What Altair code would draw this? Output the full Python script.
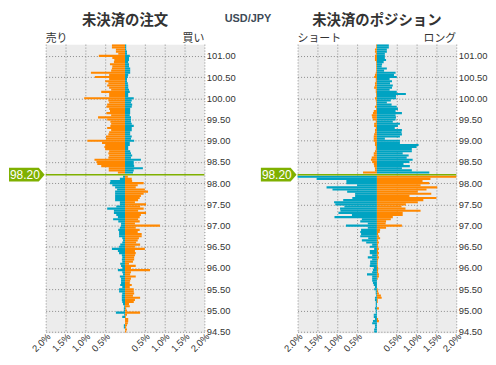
import altair as alt
import pandas as pd

CURRENT = 98.20
CURRENT_LABEL = "98.20"
PRICES = [round(101.25 - 0.05 * i, 2) for i in range(136)]
Y_TICKS = [94.5, 95.0, 95.5, 96.0, 96.5, 97.0, 97.5, 98.0, 98.5, 99.0, 99.5, 100.0, 100.5, 101.0]
X_TICKS = [-2.0, -1.5, -1.0, -0.5, 0.5, 1.0, 1.5, 2.0]

# 未決済の注文 : 売り (left) / 買い (right), % per price level, top (101.25) to bottom (94.50)
ORDER_SELL = [
    0.33, 0.33, 0.23, 0.23, 0.17, 0.66, 0.32, 0.27, 0.28, 0.38,
    0.32, 0.33, 0.35, 0.86, 0.40, 0.76, 0.40, 0.50, 0.42, 0.45,
    0.40, 0.35, 0.60, 0.40, 0.40, 1.03, 0.42, 0.40, 0.45, 0.47,
    0.40, 0.38, 0.47, 0.35, 0.68, 0.45, 0.37, 0.35, 0.37, 0.45,
    0.35, 0.40, 0.42, 0.48, 0.48,
    0.95, 0.58, 0.50, 0.52, 0.50, 0.40, 0.42, 0.40, 0.42, 0.77,
    0.72, 0.70, 0.60, 0.41, 0.41, 0.18, 0.00,
    0.05, 0.13, 0.37, 0.38, 0.32, 0.25, 0.20, 0.25, 0.25, 0.25,
    0.25, 0.25, 0.13, 0.13, 0.22, 0.45, 0.28, 0.28, 0.22, 0.18,
    0.30, 0.17, 0.10, 0.10, 0.13, 0.17, 0.15, 0.15,
    0.15, 0.07, 0.05, 0.07, 0.12, 0.15, 0.33, 0.18, 0.15, 0.08,
    0.07, 0.08, 0.07, 0.12, 0.10, 0.07, 0.18, 0.07, 0.05, 0.13,
    0.10, 0.10, 0.10, 0.12, 0.07, 0.15, 0.15, 0.07, 0.08, 0.08,
    0.08, 0.07, 0.05, 0.02, 0.03, 0.03, 0.23, 0.02, 0.07, 0.00,
    0.00, 0.00, 0.03, 0.03, 0.00, 0.00,
]
ORDER_BUY = [
    0.03, 0.03, 0.03, 0.05, 0.05, 0.12, 0.10, 0.10, 0.08, 0.10,
    0.10, 0.13, 0.13, 0.13, 0.08, 0.07, 0.05, 0.05, 0.07, 0.08,
    0.08, 0.10, 0.12, 0.08, 0.08, 0.22, 0.17, 0.15, 0.18, 0.17,
    0.13, 0.13, 0.13, 0.12, 0.15, 0.15, 0.15, 0.17, 0.22, 0.17,
    0.17, 0.13, 0.13, 0.17, 0.15,
    0.23, 0.12, 0.12, 0.08, 0.08, 0.13, 0.15, 0.18, 0.15, 0.40,
    0.22, 0.22, 0.23, 0.45, 0.22, 0.20, 0.00,
    0.07, 0.17, 0.18, 0.47, 0.32, 0.27, 0.50, 0.58, 0.47, 0.40,
    0.37, 0.33, 0.25, 0.53, 0.38, 0.47, 0.33, 0.53, 0.40, 0.37,
    0.33, 0.37, 0.25, 0.88, 0.27, 0.37, 0.32, 0.42,
    0.42, 0.35, 0.32, 0.28, 0.38, 0.25, 0.50, 0.25, 0.27, 0.25,
    0.23, 0.23, 0.20, 0.10, 0.27, 0.15, 0.63, 0.15, 0.13, 0.27,
    0.15, 0.13, 0.12, 0.17, 0.12, 0.22, 0.22, 0.23, 0.20, 0.38,
    0.25, 0.22, 0.10, 0.12, 0.03, 0.05, 0.38, 0.05, 0.02, 0.08,
    0.08, 0.07, 0.05, 0.03, 0.05, 0.03,
]
# 未決済のポジション : ショート (left) / ロング (right)
POS_SHORT = [
    0.02, 0.02, 0.05, 0.05, 0.03, 0.05, 0.05, 0.05, 0.02, 0.02,
    0.02, 0.02, 0.02, 0.03, 0.05, 0.07, 0.03, 0.03, 0.05, 0.05,
    0.07, 0.03, 0.03, 0.02, 0.02, 0.05, 0.03, 0.02, 0.02, 0.05,
    0.02, 0.08, 0.10, 0.13, 0.12, 0.10, 0.03, 0.07, 0.07, 0.03,
    0.05, 0.05, 0.07, 0.08, 0.08,
    0.08, 0.05, 0.05, 0.03, 0.03, 0.05, 0.08, 0.08, 0.13, 0.15,
    0.12, 0.08, 0.07, 0.05, 0.05, 0.35, 0.00,
    2.10, 1.52, 0.77, 0.77, 0.50, 1.27, 1.12, 0.75, 0.55, 0.55,
    0.62, 0.85, 1.08, 1.05, 0.82, 0.93, 0.92, 0.97, 0.63, 1.07,
    0.38, 0.42, 0.23, 0.78, 0.23, 0.40, 0.42, 0.40,
    0.42, 0.22, 0.38, 0.27, 0.12, 0.18, 0.07, 0.18, 0.18, 0.12,
    0.23, 0.12, 0.17, 0.17, 0.18, 0.08, 0.10, 0.12, 0.25, 0.12,
    0.12, 0.12, 0.10, 0.08, 0.05, 0.07, 0.03, 0.03, 0.02, 0.05,
    0.05, 0.03, 0.03, 0.03, 0.05, 0.03, 0.03, 0.08, 0.08, 0.05,
    0.10, 0.12, 0.05, 0.05, 0.07, 0.07,
]
POS_LONG = [
    0.30, 0.30, 0.25, 0.25, 0.20, 0.20, 0.20, 0.23, 0.17, 0.13,
    0.12, 0.25, 0.18, 0.47, 0.43, 0.50, 0.32, 0.38, 0.33, 0.40,
    0.38, 0.32, 0.50, 0.73, 0.48, 0.48, 0.35, 0.25, 0.37, 0.50,
    0.53, 0.47, 0.63, 0.47, 0.48, 0.47, 0.40, 0.58, 0.53, 0.45,
    0.63, 0.62, 0.63, 0.58, 0.20,
    0.58, 0.58, 1.05, 1.00, 0.88, 0.88, 0.65, 0.80, 0.75, 0.90,
    0.82, 0.67, 0.83, 0.63, 0.88, 1.32, 0.00,
    2.10, 1.35, 1.15, 1.32, 1.10, 1.52, 1.25, 1.03, 1.37, 0.82,
    1.50, 1.17, 1.03, 0.73, 0.62, 0.72, 1.10, 0.65, 0.65, 0.40,
    0.35, 0.23, 0.22, 0.63, 0.23, 0.08, 0.07, 0.03,
    0.05, 0.08, 0.03, 0.05, 0.03, 0.03, 0.05, 0.03, 0.05, 0.03,
    0.05, 0.03, 0.02, 0.02, 0.02, 0.03, 0.03, 0.03, 0.05, 0.05,
    0.02, 0.00, 0.00, 0.00, 0.00, 0.02, 0.03, 0.05, 0.10, 0.12,
    0.02, 0.02, 0.00, 0.00, 0.05, 0.00, 0.00, 0.00, 0.00, 0.03,
    0.05, 0.00, 0.00, 0.00, 0.00, 0.00,
]

ORANGE = "#FF8800"
TEAL = "#00A3C2"
GREEN = "#7FB000"
TEXT = "#333333"
GRID = "#8A8A8A"
JP = "Noto Sans CJK JP"
NUM = "Liberation Sans, Arial"
TAG_PATH = "M-1,-0.39 L0.667,-0.39 L1,0 L0.667,0.39 L-1,0.39 Z"

W, H = 160, 291


def make_df(left, right):
    rows = []
    for p, l, r in zip(PRICES, left, right):
        rows.append({"price": p, "side": "left", "value": -l})
        rows.append({"price": p, "side": "right", "value": r})
    return pd.DataFrame(rows)


def panel(left, right, title, left_lab, right_lab):
    xs = alt.Scale(domain=[-2, 2], nice=False, zero=False)
    ys = alt.Scale(domain=[94.475, 101.275], nice=False, zero=False)
    xaxis = alt.Axis(
        values=X_TICKS, labelExpr="format(abs(datum.value), '.1f') + '%'",
        labelAngle=315, labelAlign="right", labelBaseline="middle",
        labelFlush=False, labelOverlap=False, labelFontSize=9.5, labelFont=NUM,
        labelColor=TEXT, labelPadding=2, labelOffset=3, ticks=False, domain=False,
        grid=True, gridDash=[1, 2], gridColor=GRID, gridOpacity=1, title=None,
    )
    yaxis = alt.Axis(
        orient="right", values=Y_TICKS, format=".2f", labelFontSize=9.5,
        labelFont=NUM, labelColor=TEXT, labelPadding=2, ticks=False, domain=False,
        labelOverlap=False, labelFlush=False,
        grid=True, gridDash=[1, 2], gridColor=GRID, gridOpacity=1, title=None,
    )
    bars = alt.Chart(make_df(left, right)).transform_calculate(
        y1="datum.price + 0.025",
        y2="datum.price - 0.025",
        kind="((datum.price > %f) == (datum.side == 'left')) ? 'o' : 't'" % CURRENT,
    ).mark_rect(clip=True).encode(
        x=alt.X("value:Q", scale=xs, axis=xaxis),
        x2=alt.X2(datum=0),
        y=alt.Y("y1:Q", scale=ys, axis=yaxis),
        y2="y2:Q",
        color=alt.Color("kind:N", scale=alt.Scale(domain=["o", "t"], range=[ORANGE, TEAL]), legend=None),
    )
    cur = pd.DataFrame({"price": [CURRENT], "label": [CURRENT_LABEL]})
    ycur = alt.Y("price:Q", scale=ys, axis=yaxis)
    rule = alt.Chart(cur).mark_rule(color=GREEN, strokeWidth=1.5).encode(y=ycur)
    tag = alt.Chart(cur).mark_point(shape=TAG_PATH, filled=True, color=GREEN, opacity=1,
                                    size=1296, strokeWidth=0).encode(x=alt.value(-19), y=ycur)
    tagtext = alt.Chart(cur).mark_text(color="white", align="left", baseline="middle",
                                       fontSize=12, font=NUM).encode(
        x=alt.value(-36), y=ycur, text="label:N")
    head = alt.Chart(pd.DataFrame({"t": [title]})).mark_text(
        fontSize=14.5, fontWeight="bold", font=JP, color=TEXT, align="center", baseline="top"
    ).encode(x=alt.value(W / 2), y=alt.value(-30), text="t:N")
    ll = alt.Chart(pd.DataFrame({"t": [left_lab]})).mark_text(
        fontSize=11, font=JP, color=TEXT, align="left", baseline="alphabetic"
    ).encode(x=alt.value(0), y=alt.value(-2), text="t:N")
    rl = alt.Chart(pd.DataFrame({"t": [right_lab]})).mark_text(
        fontSize=11, font=JP, color=TEXT, align="right", baseline="alphabetic"
    ).encode(x=alt.value(W), y=alt.value(-2), text="t:N")
    return alt.layer(bars, rule, tag, tagtext, head, ll, rl).properties(width=W, height=H)


left = panel(ORDER_SELL, ORDER_BUY, "未決済の注文", "売り", "買い")
right = panel(POS_SHORT, POS_LONG, "未決済のポジション", "ショート", "ロング")

chart = alt.hconcat(left, right, spacing=24).properties(
    title=alt.TitleParams("USD/JPY", anchor="middle", fontSize=11, fontWeight="bold",
                          font="Liberation Sans, Arial", color="#3D4A57", offset=-11),
    padding={"left": 0, "top": 3, "right": 0, "bottom": 0},
).configure_view(fill="#ECECEC", stroke="transparent")

chart.save("out.html", embed_options={"renderer": "svg", "actions": False})
